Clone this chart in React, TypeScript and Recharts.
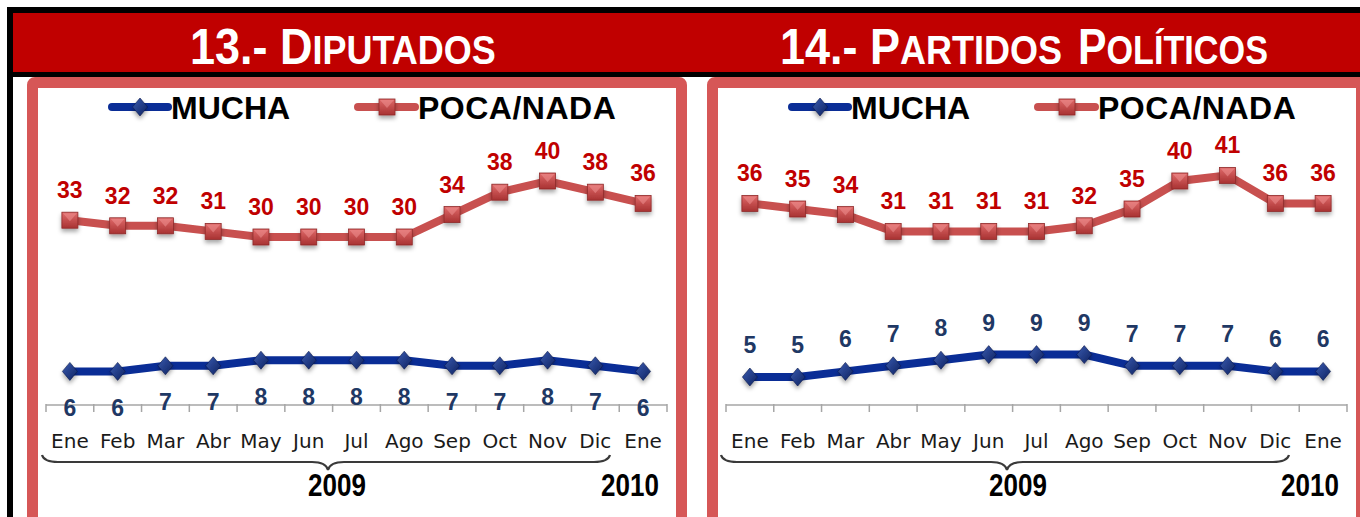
import React from 'react';
import { LineChart, Line, XAxis, YAxis, Legend, LabelList } from 'recharts';

// ---------- data ----------
const MONTHS = ['Ene', 'Feb', 'Mar', 'Abr', 'May', 'Jun', 'Jul', 'Ago', 'Sep', 'Oct', 'Nov', 'Dic', 'Ene'];
const YEARS = ['2009', '2010'];
const SERIES_NAMES = ['MUCHA', 'POCA/NADA'];

const DIPUTADOS_MUCHA = [6, 6, 7, 7, 8, 8, 8, 8, 7, 7, 8, 7, 6];
const DIPUTADOS_POCA = [33, 32, 32, 31, 30, 30, 30, 30, 34, 38, 40, 38, 36];
const PARTIDOS_MUCHA = [5, 5, 6, 7, 8, 9, 9, 9, 7, 7, 7, 6, 6];
const PARTIDOS_POCA = [36, 35, 34, 31, 31, 31, 31, 32, 35, 40, 41, 36, 36];

// title words: large first part + small-caps remainder
const TITLE_LEFT_WORDS = [['13.- D', 'IPUTADOS']];
const TITLE_RIGHT_WORDS = [['14.- P', 'ARTIDOS'], ['P', 'OLÍTICOS']];

// ---------- style ----------
const HEADER_RED = '#C00000';
const BOX_RED = '#D65757';
const BLUE = '#0A2D96';
const RED = '#C8504F';
const RED_LABEL = '#C00000';
const BLUE_LABEL = '#1F3864';
const SANS = "'Liberation Sans', Arial, sans-serif";

const CHART_W = 638;
const CHART_H = 421;
const M_LEFT = 8;
const M_RIGHT = 9;
const PLOT_W = CHART_W - M_LEFT - M_RIGHT;
const STEP = PLOT_W / MONTHS.length;

const buildRows = (mucha: number[], poca: number[]) =>
  MONTHS.map((m, i) => ({ m, mucha: mucha[i], poca: poca[i] }));

// ---------- markers ----------
const SquareMark = ({ cx, cy }: { cx: number; cy: number }) => {
  const s = 8;
  return (
    <g filter="url(#mkShadow)">
      <rect x={cx - s} y={cy - s} width={2 * s} height={2 * s} fill="url(#gRedSq)" stroke="#8E2A2A" strokeWidth={0.8} />
      <polygon points={`${cx - s + 1},${cy - s + 1} ${cx + s - 1},${cy - s + 1} ${cx},${cy + 1}`} fill="#F29595" opacity={0.5} />
    </g>
  );
};

const DiamondMark = ({ cx, cy }: { cx: number; cy: number }) => {
  const w = 7.5;
  const h = 9;
  return (
    <g filter="url(#mkShadow)">
      <polygon points={`${cx},${cy - h} ${cx + w},${cy} ${cx},${cy + h} ${cx - w},${cy}`} fill="url(#gBlueDi)" stroke="#0B1A4A" strokeWidth={0.6} />
    </g>
  );
};

const renderSquare = (p: any) => {
  if (p.cx == null || p.cy == null) return <g key={`s-${p.index}`} />;
  return <SquareMark key={`s-${p.index}`} cx={p.cx} cy={p.cy} />;
};
const renderDiamond = (p: any) => {
  if (p.cx == null || p.cy == null) return <g key={`d-${p.index}`} />;
  return <DiamondMark key={`d-${p.index}`} cx={p.cx} cy={p.cy} />;
};

// ---------- axis tick ----------
const MonthTick = (props: any) => {
  const { x, y, index } = props;
  const left = x - STEP / 2;
  const right = x + STEP / 2;
  return (
    <g>
      <line x1={left} x2={left} y1={y - 1} y2={y + 7} stroke="#A6A6A6" strokeWidth={1.5} />
      {index === MONTHS.length - 1 && (
        <line x1={right} x2={right} y1={y - 1} y2={y + 7} stroke="#A6A6A6" strokeWidth={1.5} />
      )}
      <text x={x} y={y + 43} textAnchor="middle" fontFamily="'DejaVu Sans', sans-serif" fontSize={20} fill="#1A1A1A">
        {MONTHS[index]}
      </text>
    </g>
  );
};

// ---------- legend ----------
const LegendContent = () => (
  <svg width={CHART_W} height={40} style={{ display: 'block', overflow: 'visible' }}>
    <line x1={74} x2={130} y1={19} y2={19} stroke={BLUE} strokeWidth={8} strokeLinecap="round" />
    <DiamondMark cx={102} cy={19} />
    <text x={133} y={31} fontFamily={SANS} fontWeight="bold" fontSize={32} fill="#000">
      {SERIES_NAMES[0]}
    </text>
    <line x1={320} x2={377} y1={19} y2={19} stroke={RED} strokeWidth={8} strokeLinecap="round" />
    <SquareMark cx={349} cy={19} />
    <text x={380} y={31} fontFamily={SANS} fontWeight="bold" fontSize={32} letterSpacing={0.5} fill="#000">
      {SERIES_NAMES[1]}
    </text>
  </svg>
);

// ---------- panel chart ----------
type PanelProps = {
  left: number;
  rows: { m: string; mucha: number; poca: number }[];
  muchaAbove: boolean;
};

const PanelChart = ({ left, rows, muchaAbove }: PanelProps) => (
  <div style={{ position: 'absolute', left, top: 88, width: CHART_W, height: CHART_H }}>
    <LineChart width={CHART_W} height={CHART_H} data={rows} margin={{ top: 65, right: M_RIGHT, bottom: 74, left: M_LEFT }}>
      <XAxis
        dataKey="m"
        interval={0}
        height={30}
        tickLine={false}
        tickSize={0}
        tickMargin={0}
        padding={{ left: STEP / 2, right: STEP / 2 }}
        axisLine={{ stroke: '#A6A6A6', strokeWidth: 1.5 }}
        tick={(p: any) => <MonthTick {...p} />}
      />
      <YAxis hide domain={[0, 45]} type="number" />
      <Legend
        verticalAlign="middle"
        align="center"
        layout="horizontal"
        content={() => <LegendContent />}
        wrapperStyle={{ top: 0, left: 0, width: CHART_W, height: 40, margin: 0, padding: 0 }}
      />
      <Line
        dataKey="mucha"
        name={SERIES_NAMES[0]}
        stroke={BLUE}
        strokeWidth={8}
        dot={renderDiamond}
        activeDot={false}
        isAnimationActive={false}
      >
        <LabelList
          dataKey="mucha"
          position={muchaAbove ? 'top' : 'bottom'}
          offset={muchaAbove ? 24 : 28}
          style={{ fill: BLUE_LABEL, fontSize: 23, fontWeight: 700, fontFamily: SANS }}
        />
      </Line>
      <Line
        dataKey="poca"
        name={SERIES_NAMES[1]}
        stroke={RED}
        strokeWidth={8}
        dot={renderSquare}
        activeDot={false}
        isAnimationActive={false}
      >
        <LabelList
          dataKey="poca"
          position="top"
          offset={22}
          style={{ fill: RED_LABEL, fontSize: 23, fontWeight: 700, fontFamily: SANS }}
        />
      </Line>
    </LineChart>
  </div>
);

// ---------- brace + years ----------
const bracePath = (x1: number, x2: number, cx: number) => {
  const yTop = 455;
  const yMid = 462;
  const yBot = 470;
  return `M ${x1} ${yTop} Q ${x1 + 2} ${yMid} ${x1 + 16} ${yMid} L ${cx - 16} ${yMid} Q ${cx - 2} ${yMid} ${cx} ${yBot} Q ${cx + 2} ${yMid} ${cx + 16} ${yMid} L ${x2 - 16} ${yMid} Q ${x2 - 2} ${yMid} ${x2} ${yTop}`;
};

const TitleWord = ({ parts, x, sx }: { parts: string[]; x: number; sx: number }) => (
  <g transform={`translate(${x},64) scale(${sx},1)`}>
    <text x={0} y={0} textAnchor="start" fontFamily={SANS} fontWeight="bold" fill="#FFFFFF">
      <tspan fontSize={50}>{parts[0]}</tspan>
      <tspan fontSize={40}>{parts[1]}</tspan>
    </text>
  </g>
);

const YearText = ({ t, cx }: { t: string; cx: number }) => (
  <g transform={`translate(${cx},496) scale(0.84,1)`}>
    <text x={0} y={0} textAnchor="middle" fontFamily={SANS} fontWeight="bold" fontSize={31} fill="#000">
      {t}
    </text>
  </g>
);

export default function App() {
  const leftRows = buildRows(DIPUTADOS_MUCHA, DIPUTADOS_POCA);
  const rightRows = buildRows(PARTIDOS_MUCHA, PARTIDOS_POCA);
  return (
    <div style={{ position: 'absolute', left: 0, top: 0, width: 1360, height: 517, overflow: 'hidden', background: '#FFFFFF' }}>
      <svg width={0} height={0} style={{ position: 'absolute' }}>
        <defs>
          <linearGradient id="gRedSq" x1="0" y1="0" x2="0" y2="1">
            <stop offset="0" stopColor="#E06A6A" />
            <stop offset="1" stopColor="#A83232" />
          </linearGradient>
          <linearGradient id="gBlueDi" x1="0" y1="0" x2="1" y2="1">
            <stop offset="0" stopColor="#3A5AB0" />
            <stop offset="1" stopColor="#0E2260" />
          </linearGradient>
          <filter id="mkShadow" x="-60%" y="-60%" width="220%" height="260%">
            <feDropShadow dx="0" dy="3" stdDeviation="2" floodColor="#000" floodOpacity="0.35" />
          </filter>
        </defs>
      </svg>

      {/* header */}
      <svg width={1360} height={517} style={{ position: 'absolute', left: 0, top: 0 }}>
        <rect x={7} y={7} width={1353} height={6} fill="#000" />
        <rect x={7} y={7} width={6} height={510} fill="#000" />
        <rect x={13} y={13} width={1347} height={59} fill={HEADER_RED} />
        <rect x={13} y={72} width={1347} height={5} fill="#000" />
        <TitleWord parts={TITLE_LEFT_WORDS[0]} x={190} sx={0.9} />
        <TitleWord parts={TITLE_RIGHT_WORDS[0]} x={780} sx={0.9} />
        <TitleWord parts={TITLE_RIGHT_WORDS[1]} x={1078} sx={0.855} />
      </svg>

      {/* panel frames */}
      <div style={{ position: 'absolute', left: 27, top: 77, width: 660, height: 460, boxSizing: 'border-box', border: `11px solid ${BOX_RED}`, borderRadius: 8, background: '#FFFFFF' }} />
      <div style={{ position: 'absolute', left: 707, top: 77, width: 660, height: 460, boxSizing: 'border-box', border: `11px solid ${BOX_RED}`, borderRadius: 8, background: '#FFFFFF' }} />

      <PanelChart left={38} rows={leftRows} muchaAbove={false} />
      <PanelChart left={718} rows={rightRows} muchaAbove={true} />

      {/* braces and years */}
      <svg width={1360} height={517} style={{ position: 'absolute', left: 0, top: 0, pointerEvents: 'none' }}>
        <path d={bracePath(42, 610, 328)} fill="none" stroke="#3A3A3A" strokeWidth={2.2} />
        <path d={bracePath(721, 1289, 1007)} fill="none" stroke="#3A3A3A" strokeWidth={2.2} />
        <YearText t={YEARS[0]} cx={337} />
        <YearText t={YEARS[1]} cx={630} />
        <YearText t={YEARS[0]} cx={1018} />
        <YearText t={YEARS[1]} cx={1310} />
      </svg>
    </div>
  );
}
